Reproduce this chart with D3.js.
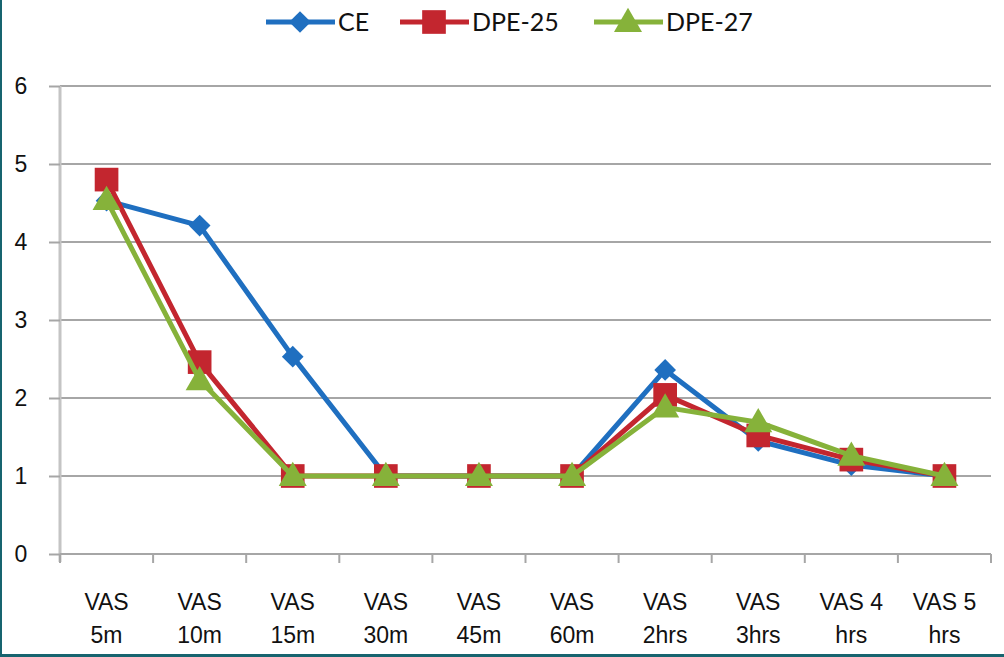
<!DOCTYPE html>
<html>
<head>
<meta charset="utf-8">
<script src="https://cdn.jsdelivr.net/npm/d3@7"></script>
<style>
  body { margin: 0; background: #fff; }
  svg { display: block; font-family: Lato, "Open Sans", sans-serif; }
</style>
</head>
<body>
<div id="container"></div>
<script>
// data
var categories = ["VAS 5m", "VAS 10m", "VAS 15m", "VAS 30m", "VAS 45m", "VAS 60m", "VAS 2hrs", "VAS 3hrs", "VAS 4 hrs", "VAS 5 hrs"];
var tickLines = [["VAS", "5m"], ["VAS", "10m"], ["VAS", "15m"], ["VAS", "30m"], ["VAS", "45m"], ["VAS", "60m"], ["VAS", "2hrs"], ["VAS", "3hrs"], ["VAS 4", "hrs"], ["VAS 5", "hrs"]];
var ce    = [4.53, 4.21, 2.53, 1, 1, 1, 2.36, 1.45, 1.14, 1];
var dpe25 = [4.80, 2.46, 1, 1, 1, 1, 2.04, 1.52, 1.21, 1];
var dpe27 = [4.54, 2.23, 1, 1, 1, 1, 1.88, 1.69, 1.26, 1];
var yTicks = [0, 1, 2, 3, 4, 5, 6];

var series = [
  {name: "CE", values: ce, color: "#1f6fc0", shape: "diamond"},
  {name: "DPE-25", values: dpe25, color: "#c3262f", shape: "square"},
  {name: "DPE-27", values: dpe27, color: "#86b23a", shape: "triangle"}
];

var W = 1004, H = 657;
var plot = {left: 60, right: 991, top: 86, bottom: 554};

var svg = d3.select("#container").append("svg")
  .attr("width", W).attr("height", H);

// frame edges (left and bottom)
svg.append("rect").attr("x", 0).attr("y", 0).attr("width", 2).attr("height", H).attr("fill", "#17646f");
svg.append("rect").attr("x", 0).attr("y", 654).attr("width", W).attr("height", 3).attr("fill", "#17646f");

var x = d3.scaleBand().domain(categories).range([plot.left, plot.right]);
var y = d3.scaleLinear().domain([0, 6]).range([plot.bottom, plot.top]);

// gridlines
svg.append("g").selectAll("line")
  .data(yTicks.filter(function(d) { return d > 0; })).enter()
  .append("line")
    .attr("x1", plot.left).attr("x2", plot.right)
    .attr("y1", function(d) { return y(d); }).attr("y2", function(d) { return y(d); })
    .attr("stroke", "#a6a6a6").attr("stroke-width", 2);

// y axis
var yAxis = svg.append("g")
  .attr("transform", "translate(" + plot.left + ",0)")
  .call(d3.axisLeft(y).tickValues(yTicks).tickFormat(d3.format("d")).tickSize(11).tickPadding(28));
yAxis.select(".domain").attr("stroke", "#c4c4c4").attr("stroke-width", 3).attr("d", "M0," + (plot.top) + "V" + (plot.bottom + 8));
yAxis.selectAll(".tick line").attr("stroke", "#a6a6a6").attr("stroke-width", 2);
yAxis.selectAll(".tick text").attr("font-size", 23).attr("fill", "#111").attr("text-anchor", "middle");

// x axis
var xAxis = svg.append("g")
  .attr("transform", "translate(0," + plot.bottom + ")")
  .call(d3.axisBottom(x).tickSize(0).tickFormat(""));
xAxis.select(".domain").attr("stroke", "#a6a6a6").attr("stroke-width", 2).attr("d", "M" + plot.left + ",0H" + plot.right);
var bounds = categories.map(function(c) { return x(c); }).concat([plot.right]);
xAxis.selectAll(".bound").data(bounds).enter().append("line")
  .attr("x1", function(d) { return d; }).attr("x2", function(d) { return d; })
  .attr("y1", 0).attr("y2", 9)
  .attr("stroke", "#a6a6a6").attr("stroke-width", 2);
var lbl = xAxis.selectAll(".lbl").data(categories).enter().append("text")
  .attr("x", function(d) { return x(d) + x.bandwidth() / 2; })
  .attr("text-anchor", "middle").attr("font-size", 23).attr("fill", "#111");
lbl.append("tspan").attr("x", function(d) { return x(d) + x.bandwidth() / 2; }).attr("y", 56)
  .text(function(d, i) { return tickLines[i][0]; });
lbl.append("tspan").attr("x", function(d) { return x(d) + x.bandwidth() / 2; }).attr("y", 89)
  .text(function(d, i) { return tickLines[i][1]; });

var symbols = {
  diamond: d3.symbol().type(d3.symbolDiamond2).size(300),
  square: d3.symbol().type(d3.symbolSquare).size(560),
  triangle: d3.symbol().type(d3.symbolTriangle).size(340)
};

var line = d3.line()
  .x(function(d, i) { return x(categories[i]) + x.bandwidth() / 2; })
  .y(function(d) { return y(d); });

series.forEach(function(s) {
  var g = svg.append("g");
  g.append("path").attr("d", line(s.values))
    .attr("fill", "none").attr("stroke", s.color).attr("stroke-width", 5).attr("stroke-linejoin", "round");
  g.selectAll("path.m").data(s.values).enter().append("path")
    .attr("class", "m")
    .attr("d", symbols[s.shape])
    .attr("transform", function(d, i) {
      var dy = s.shape === "triangle" ? 2 : 0;
      return "translate(" + (x(categories[i]) + x.bandwidth() / 2) + "," + (y(d) + dy) + ")";
    })
    .attr("fill", s.color);
});

// legend
var legendX = [266, 400, 594];
var legend = svg.selectAll(".legend").data(series).enter().append("g")
  .attr("transform", function(d, i) { return "translate(" + legendX[i] + ",22)"; });
legend.append("line").attr("x1", 0).attr("x2", 69)
  .attr("stroke", function(d) { return d.color; }).attr("stroke-width", 5);
legend.append("path")
  .attr("d", function(d) { return symbols[d.shape](); })
  .attr("transform", function(d) { return "translate(34," + (d.shape === "triangle" ? 2 : 0) + ")"; })
  .attr("fill", function(d) { return d.color; });
legend.append("text").attr("x", 72).attr("y", 9)
  .attr("font-size", 25).attr("fill", "#111")
  .text(function(d) { return d.name; });
</script>
</body>
</html>
